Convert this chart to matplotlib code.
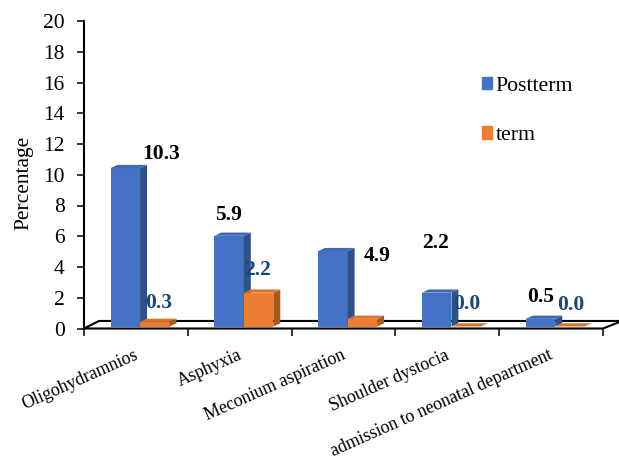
import matplotlib.pyplot as plt
from matplotlib.patches import Polygon, Patch

plt.rcParams['font.family'] = ['Liberation Serif', 'DejaVu Serif']

# Data
categories = ['Oligohydramnios', 'Asphyxia', 'Meconium aspiration', 'Shoulder dystocia',
              'admission to neonatal department']
postterm = [10.3, 5.9, 4.9, 2.2, 0.5]
term = [0.3, 2.2, 0.5, 0.0, 0.0]
postterm_labels = ['10.3', '5.9', '4.9', '2.2', '0.5']
term_labels = ['0.3', '2.2', '', '0.0', '0.0']

# Label offsets in pixels from the top centre of each bar
postterm_offsets = [(36, 14), (-1, 21), (44, -5), (-1, 50), (0, 22)]
term_offsets = [(4, 19), (-1, 23), (0, 0), (1, 23), (1, 22)]

bar_w = 0.284
base = 0.13      # bars stand slightly behind the front edge of the floor
depth_x = 0.067
depth_y = 0.21


def draw_bar(ax, x, value, front, top, side):
    left, right = x - bar_w / 2, x + bar_w / 2
    y0, y1 = base, base + value
    ax.bar(x, value, bar_w, bottom=base, color=front, zorder=3)
    ax.add_patch(Polygon([(right, y0), (right + depth_x, y0 + depth_y),
                          (right + depth_x, y1 + depth_y), (right, y1)],
                         facecolor=side, edgecolor='none', zorder=3, clip_on=False))
    ax.add_patch(Polygon([(left, y1), (left + depth_x, y1 + depth_y),
                          (right + depth_x, y1 + depth_y), (right, y1)],
                         facecolor=top, edgecolor='none', zorder=3, clip_on=False))


fig = plt.figure(figsize=(6.19, 4.62), dpi=100)
ax = fig.add_axes([84 / 619, 1 - 328.5 / 462, (603 - 84) / 619, (328.5 - 21) / 462])
ax.set_xlim(-0.5, 4.5)
ax.set_ylim(0, 20)

# Floor of the 3D plot
floor = [(-0.5, 0), (-0.355, 0.49), (4.683, 0.49), (4.5, 0)]
ax.add_patch(Polygon(floor, closed=True, facecolor='white', edgecolor='black',
                     linewidth=1.5, zorder=2, clip_on=False))

for i in range(len(categories)):
    cx = i + 0.04
    draw_bar(ax, cx - bar_w / 2, postterm[i], '#4472C4', '#3F69B5', '#2F5189')
    draw_bar(ax, cx + bar_w / 2, term[i], '#ED7D31', '#DB732C', '#A65A20')

    ax.annotate(postterm_labels[i], (cx - bar_w / 2, base + postterm[i]),
                xytext=postterm_offsets[i], textcoords='offset pixels',
                ha='center', va='center', fontsize=15.5, fontweight='bold',
                color='black', zorder=5, annotation_clip=False)
    if term_labels[i]:
        ax.annotate(term_labels[i], (cx + bar_w / 2, base + term[i]),
                    xytext=term_offsets[i], textcoords='offset pixels',
                    ha='center', va='center', fontsize=15.5, fontweight='bold',
                    color='#17477A', zorder=5, annotation_clip=False)

# Axes
for s in ['top', 'right', 'bottom']:
    ax.spines[s].set_visible(False)
ax.spines['left'].set_linewidth(1.5)
ax.spines['left'].set_bounds(0, 20)
ax.set_yticks(range(0, 21, 2))
ax.tick_params(axis='y', labelsize=15.5, length=5, width=1.1, pad=9)
ax.set_xticks([i - 0.5 for i in range(6)])
ax.set_xticklabels([])
ax.tick_params(axis='x', length=5, width=1.1, pad=0)
ax.set_ylabel('Percentage', fontsize=15.5)
ax.yaxis.set_label_coords(-0.098, 0.473)

# Category labels, rotated with their right end under each group
for i, name in enumerate(categories):
    ax.annotate(name, (i, 0), xytext=(1, -26), textcoords='offset pixels',
                rotation=24, rotation_mode='anchor', ha='right', va='center',
                fontsize=12.9, annotation_clip=False)

handles = [Patch(color='#4472C4', label='Postterm'), Patch(color='#ED7D31', label='term')]
ax.legend(handles=handles, frameon=False, fontsize=15.7, loc='upper left',
          bbox_to_anchor=(0.766, 0.818), handlelength=0.5, handleheight=0.5,
          handletextpad=0.14, labelspacing=1.38, borderpad=0, borderaxespad=0)

fig.savefig('out.png', dpi=100)
